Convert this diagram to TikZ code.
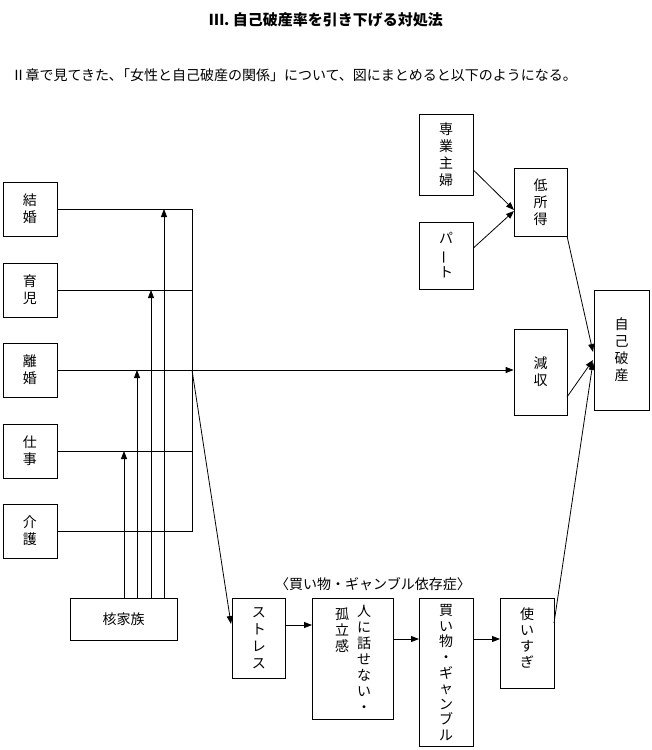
\documentclass[tikz,border=0pt]{standalone}
\usepackage{fontspec}
\setmainfont{Noto Sans CJK JP}
\usepackage{graphicx}
\usetikzlibrary{arrows.meta}
\begin{document}
\begin{tikzpicture}[x=1pt,y=-1pt,
  box/.style={draw,thick,inner sep=0pt,align=center,font=\fontsize{14}{17}\selectfont},
  arr/.style={thick,-{Triangle[length=8pt,width=6pt]}},
  ln/.style={thick}]
\useasboundingbox (0,0) rectangle (652,750);
\node[font=\bfseries\fontsize{15}{18}\selectfont] (title) at (326,20) {Ⅲ.\ 自己破産率を引き下げる対処法};
\node[anchor=west,font=\fontsize{14}{17}\selectfont] (sub) at (8,75) {Ⅱ章で見てきた､「女性と自己破産の関係」について、図にまとめると以下のようになる。};
% left boxes
\node[box,minimum width=54pt,minimum height=54pt] (kekkon) at (30,209) {結\\婚};
\node[box,minimum width=54pt,minimum height=54pt] (ikuji) at (30,290) {育\\児};
\node[box,minimum width=54pt,minimum height=54pt] (rikon) at (30,370) {離\\婚};
\node[box,minimum width=54pt,minimum height=54pt] (shigoto) at (30,451) {仕\\事};
\node[box,minimum width=54pt,minimum height=54pt] (kaigo) at (30,531) {介\\護};
\node[box,minimum width=107pt,minimum height=42pt] (kaku) at (123.5,619) {核家族};
\coordinate (j1) at (192,209);
\coordinate (j2) at (192,290);
\coordinate (j3) at (192,370);
\coordinate (j4) at (192,451);
\coordinate (j5) at (192,531);
\draw[ln] (kekkon.east) -- (j1) -- (j5) -- (kaigo.east);
\draw[ln] (ikuji.east) -- (j2);
\draw[ln] (shigoto.east) -- (j4);
\draw[ln] (rikon.east) -- (j3);
\draw[arr] (124,598) -- (124,451);
\draw[arr] (137,598) -- (137,370);
\draw[arr] (151,598) -- (151,290);
\draw[arr] (164,598) -- (164,209);
% right top
\node[box,minimum width=54pt,minimum height=81pt] (sengyo) at (446,154.5) {専\\業\\主\\婦};
\node[box,minimum width=54pt,minimum height=67pt] (part) at (446,255.5) {パ\\\rotatebox[origin=c]{90}{ー}\\ト};
\node[box,minimum width=53pt,minimum height=68pt] (tei) at (540.5,202) {低\\所\\得};
\node[box,minimum width=53pt,minimum height=86pt] (gen) at (540.5,372) {減\\収};
\node[box,minimum width=55pt,minimum height=120pt] (jiko) at (621.5,350) {自\\己\\破\\産};
\draw[arr] (sengyo.east |- 0,170) -- (514,210);
\draw[arr] (part.east |- 0,248) -- (514,211);
\draw[arr] (567,236) -- (593,352);
\draw[arr] (567,397) -- (593,360);
\draw[arr] (j3) -- (gen.west |- j3);
% bottom chain
\node[font=\fontsize{14}{17}\selectfont] (izon) at (373,584) {〈買い物・ギャンブル依存症〉};
\node[box,minimum width=53pt,minimum height=80pt,anchor=north west] (stress) at (232,598) {ス\\ト\\レ\\ス};
\node[box,minimum width=81pt,minimum height=121pt,anchor=north west] (hito) at (312,598) {};
\node[font=\fontsize{14}{16}\selectfont,align=center,anchor=north] (hito1) at (364,602) {人\\に\\話\\せ\\な\\い\\・};
\node[font=\fontsize{14}{16}\selectfont,align=center,anchor=north] (hito2) at (342,604) {孤\\立\\感};
\node[box,minimum width=54pt,minimum height=148pt,anchor=north west] (kai) at (419,598) {};
\node[font=\fontsize{14}{15.6}\selectfont,align=center,anchor=north] (kai1) at (446,601) {買\\い\\物\\・\\ギ\\ャ\\ン\\ブ\\ル};
\node[box,minimum width=54pt,minimum height=90pt,anchor=north west] (tsukai) at (500,598) {};
\node[font=\fontsize{14}{16}\selectfont,align=center,anchor=north] (tsukai1) at (527,604) {使\\い\\す\\ぎ};
\draw[arr] (j3) -- (231,624);
\draw[arr] (stress.east |- 0,625) -- (hito.west |- 0,625);
\draw[arr] (hito.east |- 0,639) -- (kai.west |- 0,639);
\draw[arr] (kai.east |- 0,639) -- (tsukai.west |- 0,639);
\draw[arr] (554,623) -- (593,362);
\end{tikzpicture}
\end{document}
